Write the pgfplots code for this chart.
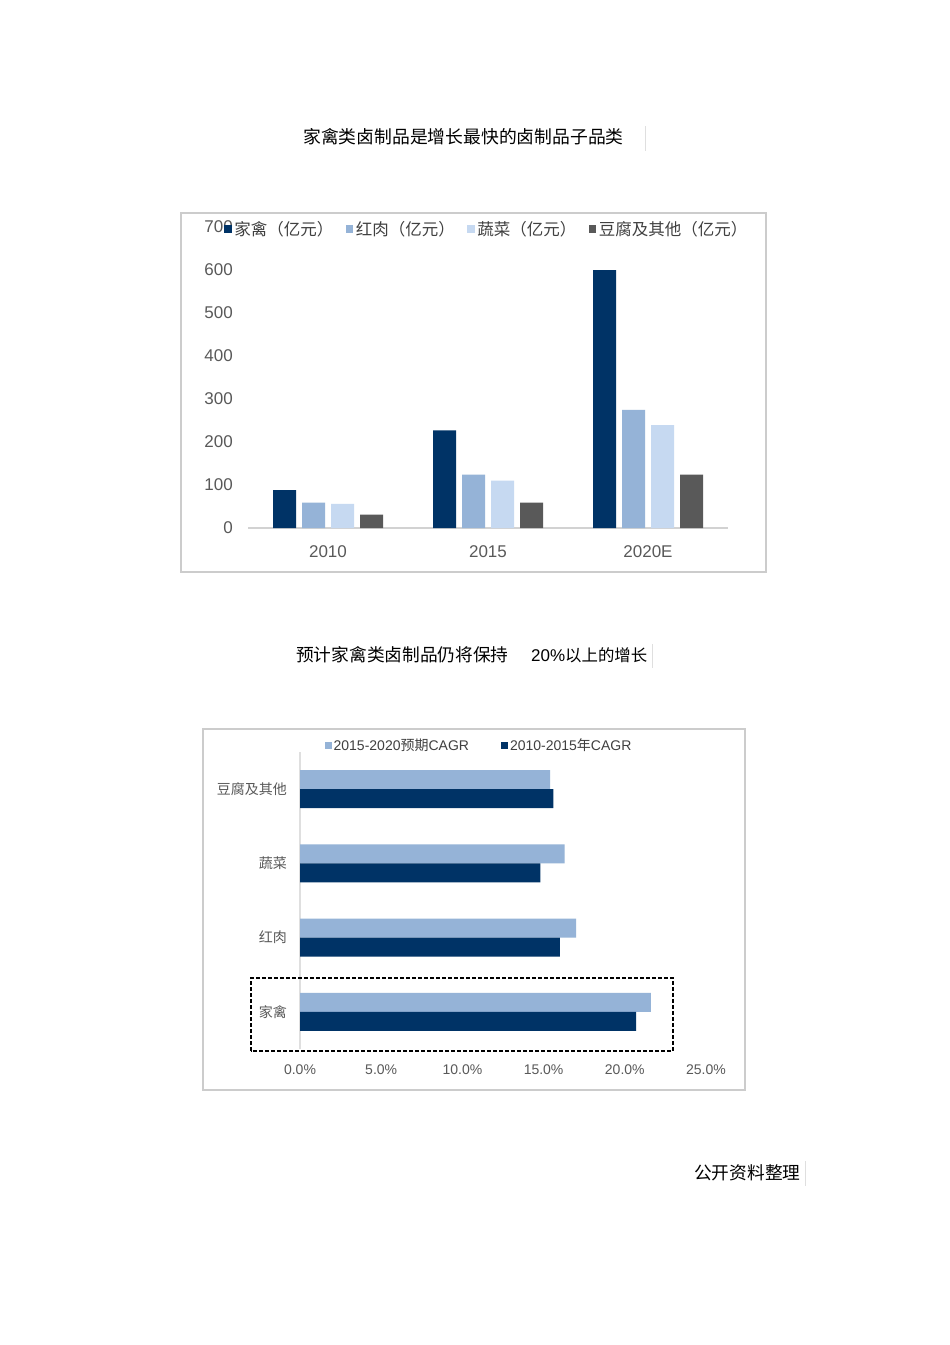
\documentclass[border=0pt]{standalone}
\usepackage{pgfplots}
\pgfplotsset{compat=1.18}
\usepackage{fontspec}
\setmainfont{Liberation Sans}
\newfontfamily\cjk{Noto Sans CJK SC}
\definecolor{navy}{HTML}{003366}
\definecolor{mblue}{HTML}{95B3D7}
\definecolor{lblue}{HTML}{C6D9F1}
\definecolor{dgray}{HTML}{595959}
\definecolor{tgray}{HTML}{595959}
\definecolor{ltext}{HTML}{404040}
\pgfplotsset{
  /pgfplots/ybar legend/.style={/pgfplots/legend image code/.code={\fill[##1] (0pt,-3.75pt) rectangle (7.5pt,3.75pt);}},
  /pgfplots/xbar legend/.style={/pgfplots/legend image code/.code={\fill[##1] (0pt,-3.5pt) rectangle (7pt,3.5pt);}},
}
\begin{document}
\begin{tikzpicture}[x=1pt,y=1pt]
\useasboundingbox (0,0) rectangle (950,-1345);
\fill[white] (0,0) rectangle (950,-1345);
% titles
\node[anchor=west,inner sep=0pt,font=\cjk\fontsize{17.8pt}{20pt}\selectfont] at (303,-137) {家禽类卤制品是增长最快的卤制品子品类};
\draw[gray!25,line width=0.8pt] (645,-126) -- (645,-151);
\node[anchor=west,inner sep=0pt,font=\cjk\fontsize{17.7pt}{20pt}\selectfont] at (296,-655) {预计家禽类卤制品仍将保持};
\node[anchor=west,inner sep=0pt,font=\fontsize{17pt}{20pt}\selectfont] at (531,-655) {20\%{\cjk\fontsize{16.4pt}{20pt}\selectfont 以上的增长}};
\draw[gray!25,line width=0.8pt] (652,-644) -- (652,-668);
\node[anchor=west,inner sep=0pt,font=\cjk\fontsize{17.7pt}{20pt}\selectfont] at (694,-1173) {公开资料整理};
\draw[gray!25,line width=0.8pt] (805,-1161) -- (805,-1186);
% frames
\draw[gray!40,line width=1.5pt] (181,-213) rectangle (766,-572);
\draw[gray!40,line width=1.5pt] (203,-729) rectangle (745,-1090);

% chart 1
\begin{axis}[
  at={(248pt,-528pt)}, anchor=south west, scale only axis,
  width=480pt, height=301pt,
  xmin=-0.5, xmax=2.5, ymin=0, ymax=700,
  ybar=6pt, bar width=23pt,
  axis lines*=left, axis line style={-},
  y axis line style={draw=none},
  x axis line style={draw=gray!35,line width=1.5pt},
  major tick length=0pt,
  xtick={0,1,2}, xticklabels={2010,2015,2020E},
  ytick={0,100,200,300,400,500,600,700},
  yticklabels={0,100,200,300,400,500,600,700},
  tick label style={font=\fontsize{17pt}{17pt}\selectfont, text=tgray, inner sep=0pt},
  xticklabel style={yshift=-17pt},
  yticklabel style={xshift=-15pt},
  legend columns=4,
  legend style={at={(0.498,0.993)}, anchor=center, draw=none, fill=none, inner sep=0pt,
    font=\cjk\fontsize{16.5pt}{17pt}\selectfont, text=ltext,
    nodes={inner xsep=2.5pt, inner ysep=0pt},
    /tikz/every even column/.append style={column sep=10pt}},
  clip=false,
]
\addplot[fill=navy, draw=none] coordinates {(0,88) (1,227) (2,600)};
\addlegendentry{家禽（亿元）}
\addplot[fill=mblue, draw=none] coordinates {(0,59) (1,124) (2,275)};
\addlegendentry{红肉（亿元）}
\addplot[fill=lblue, draw=none] coordinates {(0,56) (1,110) (2,239)};
\addlegendentry{蔬菜（亿元）}
\addplot[fill=dgray, draw=none] coordinates {(0,31) (1,59) (2,124)};
\addlegendentry{豆腐及其他（亿元）}
\end{axis}

% chart 2
\begin{axis}[
  at={(300pt,-1049pt)}, anchor=south west, scale only axis,
  width=406pt, height=297pt,
  xmin=0, xmax=25, ymin=-0.5, ymax=3.5,
  xbar, bar width=19pt,
  axis lines*=left, axis line style={-},
  x axis line style={draw=none},
  y axis line style={draw=gray!25,line width=1.2pt},
  major tick length=0pt,
  xtick={0,5,10,15,20,25},
  xticklabels={0.0\%,5.0\%,10.0\%,15.0\%,20.0\%,25.0\%},
  ytick={0,1,2,3},
  yticklabels={{\cjk 家禽},{\cjk 红肉},{\cjk 蔬菜},{\cjk 豆腐及其他}},
  tick label style={font=\fontsize{14pt}{14pt}\selectfont, text=tgray, inner sep=0pt},
  xticklabel style={yshift=-16pt},
  yticklabel style={xshift=-13pt},
  legend columns=2,
  legend style={at={(0.441,1.0236)}, anchor=center, draw=none, fill=none, inner sep=0pt,
    font=\fontsize{14pt}{16pt}\selectfont, text=ltext,
    nodes={inner xsep=2pt, inner ysep=0pt},
    /tikz/every even column/.append style={column sep=30pt}},
  clip=false,
]
\addplot[fill=mblue, draw=none, bar shift=9.5pt] coordinates {(21.6,0) (17.0,1) (16.3,2) (15.4,3)};
\addlegendentry{2015-2020{\cjk 预期}CAGR}
\addplot[fill=navy, draw=none, bar shift=-9.5pt] coordinates {(20.7,0) (16.0,1) (14.8,2) (15.6,3)};
\addlegendentry{2010-2015{\cjk 年}CAGR}
\draw[black, line width=1.5pt, dash pattern=on 4pt off 2pt] (axis cs:-3.02,-0.527) rectangle (axis cs:22.97,0.456);
\end{axis}
\end{tikzpicture}
\end{document}
